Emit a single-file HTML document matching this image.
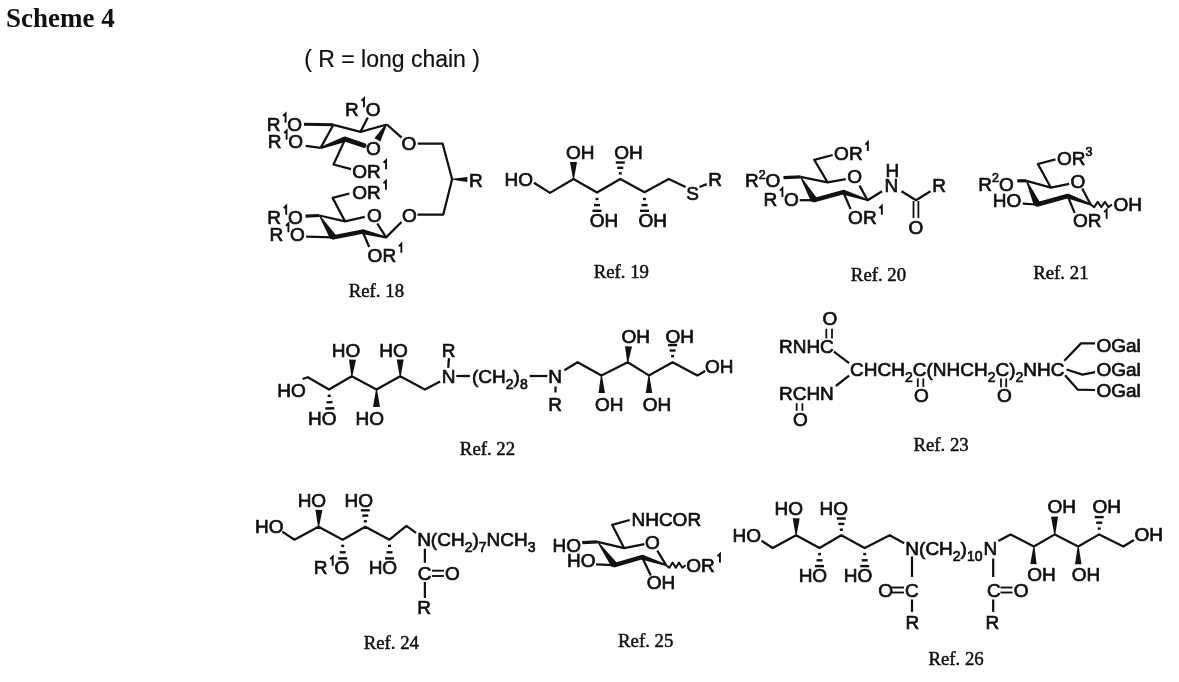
<!DOCTYPE html>
<html><head><meta charset="utf-8"><style>
html,body{margin:0;padding:0;background:#fff;}
svg{display:block;will-change:transform;}
.s{font-family:"Liberation Sans",sans-serif;fill:#111;stroke:#111;stroke-width:0.7px;}
.r{font-family:"Liberation Serif",serif;fill:#111;stroke:#111;stroke-width:0.5px;}
.h{font-family:"Liberation Sans",sans-serif;fill:#111;stroke:#111;stroke-width:0.2px;}
.b{font-family:"Liberation Serif",serif;font-weight:bold;fill:#111;}
</style></head><body>
<svg width="1179" height="682" viewBox="0 0 1179 682">
<rect width="1179" height="682" fill="#fff"/>
<text class="b" x="6.06" y="27.10" font-size="27">Scheme 4</text>
<text class="h" x="304.17" y="66.80" font-size="23">( R = long chain )</text>
<text class="s" x="266.64" y="131.40" font-size="19">R</text>
<polyline points="283.11,116.16 285.61,113.66 285.61,122.66" fill="none" stroke="#111" stroke-width="1.9"/>
<text class="s" x="287.31" y="131.40" font-size="19">O</text>
<text class="s" x="267.64" y="148.40" font-size="19">R</text>
<polyline points="284.11,133.16 286.61,130.66 286.61,139.66" fill="none" stroke="#111" stroke-width="1.9"/>
<text class="s" x="288.31" y="148.40" font-size="19">O</text>
<text class="s" x="345.04" y="116.10" font-size="19">R</text>
<polyline points="361.51,100.86 364.01,98.36 364.01,107.36" fill="none" stroke="#111" stroke-width="1.9"/>
<text class="s" x="365.71" y="116.10" font-size="19">O</text>
<text class="s" x="366.10" y="155.00" font-size="19">O</text>
<text class="s" x="401.40" y="150.10" font-size="19">O</text>
<text class="s" x="352.30" y="178.00" font-size="19">O</text>
<text class="s" x="367.08" y="178.00" font-size="19">R</text>
<polyline points="383.55,162.76 386.05,160.26 386.05,169.26" fill="none" stroke="#111" stroke-width="1.9"/>
<text class="s" x="468.94" y="186.80" font-size="19">R</text>
<polyline points="304.0,124.3 333.4,124.8" fill="none" stroke="#111" stroke-width="3" stroke-linejoin="round" stroke-linecap="butt"/>
<polyline points="333.4,124.8 360.5,131.8 386.9,124.5" fill="none" stroke="#111" stroke-width="2.25" stroke-linejoin="round" stroke-linecap="butt"/>
<polyline points="333.4,124.8 320.6,147.9" fill="none" stroke="#111" stroke-width="2.25" stroke-linejoin="round" stroke-linecap="butt"/>
<polygon points="321.0,148.9 346.1,141.7 344.3,136.5 320.2,146.9" fill="#111"/>
<line x1="345.2" y1="139.1" x2="364.0" y2="145.5" stroke="#111" stroke-width="5" stroke-linecap="round"/>
<polygon points="385.4,124.6 374.4,138.2 380.4,141.6 386.6,125.4" fill="#111"/>
<polyline points="360.5,131.8 367.8,117.5" fill="none" stroke="#111" stroke-width="2.25" stroke-linejoin="round" stroke-linecap="butt"/>
<polyline points="345.2,139.1 333.5,164.5 351.0,169.2" fill="none" stroke="#111" stroke-width="2.25" stroke-linejoin="round" stroke-linecap="butt"/>
<polyline points="305.7,145.8 320.6,147.9" fill="none" stroke="#111" stroke-width="2.25" stroke-linejoin="round" stroke-linecap="butt"/>
<polyline points="386.9,124.5 401.6,137.7" fill="none" stroke="#111" stroke-width="2.25" stroke-linejoin="round" stroke-linecap="butt"/>
<polyline points="417.7,143.5 442.6,143.5 452.1,179.3 443.3,214.5 417.5,214.5" fill="none" stroke="#111" stroke-width="2.25" stroke-linejoin="round" stroke-linecap="butt"/>
<polygon points="452.1,179.8 467.4,182.1 467.4,177.1 452.1,178.8" fill="#111"/>
<text class="s" x="352.20" y="198.60" font-size="19">O</text>
<text class="s" x="366.98" y="198.60" font-size="19">R</text>
<polyline points="383.45,183.36 385.95,180.86 385.95,189.86" fill="none" stroke="#111" stroke-width="1.9"/>
<text class="s" x="267.24" y="223.50" font-size="19">R</text>
<polyline points="283.71,208.26 286.21,205.76 286.21,214.76" fill="none" stroke="#111" stroke-width="1.9"/>
<text class="s" x="287.91" y="223.50" font-size="19">O</text>
<text class="s" x="269.44" y="241.10" font-size="19">R</text>
<polyline points="285.91,225.86 288.41,223.36 288.41,232.36" fill="none" stroke="#111" stroke-width="1.9"/>
<text class="s" x="290.11" y="241.10" font-size="19">O</text>
<text class="s" x="366.90" y="222.00" font-size="19">O</text>
<text class="s" x="402.10" y="222.00" font-size="19">O</text>
<text class="s" x="367.60" y="261.60" font-size="19">O</text>
<text class="s" x="382.38" y="261.60" font-size="19">R</text>
<polyline points="398.85,246.36 401.35,243.86 401.35,252.86" fill="none" stroke="#111" stroke-width="1.9"/>
<polyline points="305.5,216.2 319.4,215.5" fill="none" stroke="#111" stroke-width="3.2" stroke-linejoin="round" stroke-linecap="butt"/>
<polyline points="319.4,215.5 345.0,221.3 364.8,216.9" fill="none" stroke="#111" stroke-width="2.25" stroke-linejoin="round" stroke-linecap="butt"/>
<polyline points="377.3,223.5 386.1,237.4 401.5,222.0" fill="none" stroke="#111" stroke-width="2.25" stroke-linejoin="round" stroke-linecap="butt"/>
<polygon points="386.3,236.4 363.2,229.2 362.0,234.0 385.9,238.4" fill="#111"/>
<line x1="362.6" y1="231.6" x2="333.3" y2="237.4" stroke="#111" stroke-width="4.5" stroke-linecap="round"/>
<polygon points="319.0,215.8 330.3,239.3 336.3,235.5 319.8,215.2" fill="#111"/>
<polyline points="306.2,236.7 333.3,237.4" fill="none" stroke="#111" stroke-width="2.25" stroke-linejoin="round" stroke-linecap="butt"/>
<polyline points="345.0,221.3 332.6,197.9 349.4,193.5" fill="none" stroke="#111" stroke-width="2.25" stroke-linejoin="round" stroke-linecap="butt"/>
<polyline points="362.6,231.6 369.2,247.0" fill="none" stroke="#111" stroke-width="2.25" stroke-linejoin="round" stroke-linecap="butt"/>
<text class="r" x="348.76" y="297.40" font-size="18.8">Ref. 18</text>
<text class="s" x="504.44" y="186.30" font-size="19">HO</text>
<text class="s" x="566.00" y="159.20" font-size="19">OH</text>
<text class="s" x="589.70" y="226.70" font-size="19">OH</text>
<text class="s" x="614.30" y="159.20" font-size="19">OH</text>
<text class="s" x="638.50" y="226.60" font-size="19">OH</text>
<text class="s" x="686.14" y="199.50" font-size="19">S</text>
<text class="s" x="708.24" y="186.30" font-size="19">R</text>
<polyline points="533.9,182.7 550.0,192.9 573.5,179.0 597.0,192.5 620.3,179.0 644.5,192.2 668.7,179.0 685.6,187.0" fill="none" stroke="#111" stroke-width="2.25" stroke-linejoin="round" stroke-linecap="butt"/>
<polyline points="699.5,187.0 706.8,184.1" fill="none" stroke="#111" stroke-width="2.25" stroke-linejoin="round" stroke-linecap="butt"/>
<polygon points="574.0,179.0 577.0,162.1 570.0,162.1 573.0,179.0" fill="#111"/>
<line x1="595.5" y1="199.0" x2="598.5" y2="199.0" stroke="#111" stroke-width="2.4"/>
<line x1="594.0" y1="205.1" x2="600.0" y2="205.1" stroke="#111" stroke-width="2.4"/>
<line x1="592.5" y1="210.8" x2="601.5" y2="210.8" stroke="#111" stroke-width="2.4"/>
<line x1="621.8" y1="173.4" x2="618.8" y2="173.4" stroke="#111" stroke-width="2.4"/>
<line x1="623.3" y1="167.8" x2="617.3" y2="167.8" stroke="#111" stroke-width="2.4"/>
<line x1="624.8" y1="162.5" x2="615.8" y2="162.5" stroke="#111" stroke-width="2.4"/>
<line x1="643.0" y1="199.0" x2="646.0" y2="199.0" stroke="#111" stroke-width="2.4"/>
<line x1="641.5" y1="205.1" x2="647.5" y2="205.1" stroke="#111" stroke-width="2.4"/>
<line x1="640.0" y1="210.8" x2="649.0" y2="210.8" stroke="#111" stroke-width="2.4"/>
<text class="r" x="593.66" y="277.50" font-size="18.8">Ref. 19</text>
<text class="s" x="744.94" y="187.30" font-size="19">R</text>
<text class="s" x="758.66" y="178.56" font-size="12.5">2</text>
<text class="s" x="765.61" y="187.30" font-size="19">O</text>
<text class="s" x="763.44" y="205.80" font-size="19">R</text>
<polyline points="779.91,190.56 782.41,188.06 782.41,197.06" fill="none" stroke="#111" stroke-width="1.9"/>
<text class="s" x="784.11" y="205.80" font-size="19">O</text>
<text class="s" x="834.10" y="159.80" font-size="19">O</text>
<text class="s" x="848.88" y="159.80" font-size="19">R</text>
<polyline points="865.35,144.56 867.85,142.06 867.85,151.06" fill="none" stroke="#111" stroke-width="1.9"/>
<text class="s" x="847.30" y="183.20" font-size="19">O</text>
<text class="s" x="848.10" y="223.50" font-size="19">O</text>
<text class="s" x="862.88" y="223.50" font-size="19">R</text>
<polyline points="879.35,208.26 881.85,205.76 881.85,214.76" fill="none" stroke="#111" stroke-width="1.9"/>
<text class="s" x="885.44" y="176.80" font-size="19">H</text>
<text class="s" x="884.44" y="192.10" font-size="19">N</text>
<text class="s" x="932.14" y="192.10" font-size="19">R</text>
<text class="s" x="908.60" y="234.00" font-size="19">O</text>
<polyline points="783.5,177.6 800.5,176.8" fill="none" stroke="#111" stroke-width="3.2" stroke-linejoin="round" stroke-linecap="butt"/>
<polyline points="800.5,176.8 827.6,182.4 845.8,179.2" fill="none" stroke="#111" stroke-width="2.25" stroke-linejoin="round" stroke-linecap="butt"/>
<polyline points="859.5,185.6 867.6,200.2 882.1,191.3" fill="none" stroke="#111" stroke-width="2.25" stroke-linejoin="round" stroke-linecap="butt"/>
<polygon points="867.9,199.3 844.1,189.7 842.5,194.5 867.3,201.1" fill="#111"/>
<line x1="843.3" y1="192.1" x2="814.2" y2="200.2" stroke="#111" stroke-width="4.5" stroke-linecap="round"/>
<polygon points="800.1,177.1 811.2,202.0 817.2,198.4 800.9,176.5" fill="#111"/>
<polyline points="799.7,200.2 814.2,200.2" fill="none" stroke="#111" stroke-width="2.25" stroke-linejoin="round" stroke-linecap="butt"/>
<polyline points="827.6,182.4 814.2,159.8 832.7,155.0" fill="none" stroke="#111" stroke-width="2.25" stroke-linejoin="round" stroke-linecap="butt"/>
<polyline points="843.3,192.1 850.6,209.0" fill="none" stroke="#111" stroke-width="2.25" stroke-linejoin="round" stroke-linecap="butt"/>
<polyline points="901.5,191.3 916.0,200.2 930.5,191.3" fill="none" stroke="#111" stroke-width="2.25" stroke-linejoin="round" stroke-linecap="butt"/>
<polyline points="913.5,201.0 913.5,218.0" fill="none" stroke="#111" stroke-width="1.8" stroke-linejoin="round" stroke-linecap="butt"/>
<polyline points="918.4,201.0 918.4,218.0" fill="none" stroke="#111" stroke-width="1.8" stroke-linejoin="round" stroke-linecap="butt"/>
<text class="r" x="850.86" y="280.90" font-size="18.8">Ref. 20</text>
<text class="s" x="978.34" y="190.70" font-size="19">R</text>
<text class="s" x="992.06" y="181.96" font-size="12.5">2</text>
<text class="s" x="999.01" y="190.70" font-size="19">O</text>
<text class="s" x="992.84" y="206.80" font-size="19">HO</text>
<text class="s" x="1056.90" y="164.80" font-size="19">O</text>
<text class="s" x="1071.68" y="164.80" font-size="19">R</text>
<text class="s" x="1085.40" y="156.06" font-size="12.5">3</text>
<text class="s" x="1070.60" y="187.70" font-size="19">O</text>
<text class="s" x="1113.40" y="211.30" font-size="19">OH</text>
<text class="s" x="1072.90" y="227.40" font-size="19">O</text>
<text class="s" x="1087.68" y="227.40" font-size="19">R</text>
<polyline points="1104.15,212.16 1106.65,209.66 1106.65,218.66" fill="none" stroke="#111" stroke-width="1.9"/>
<polyline points="1017.3,180.8 1026.5,180.8" fill="none" stroke="#111" stroke-width="3.2" stroke-linejoin="round" stroke-linecap="butt"/>
<polyline points="1026.5,180.8 1050.9,187.7 1069.2,183.9" fill="none" stroke="#111" stroke-width="2.25" stroke-linejoin="round" stroke-linecap="butt"/>
<polyline points="1082.2,188.4 1090.6,204.5" fill="none" stroke="#111" stroke-width="2.25" stroke-linejoin="round" stroke-linecap="butt"/>
<polygon points="1090.9,203.6 1068.6,193.7 1066.8,198.3 1090.3,205.4" fill="#111"/>
<line x1="1067.7" y1="196.0" x2="1037.2" y2="204.5" stroke="#111" stroke-width="4.5" stroke-linecap="round"/>
<polygon points="1026.0,181.0 1034.0,205.9 1040.4,203.1 1027.0,180.6" fill="#111"/>
<polyline points="1022.7,203.7 1037.2,204.5" fill="none" stroke="#111" stroke-width="2.25" stroke-linejoin="round" stroke-linecap="butt"/>
<polyline points="1050.9,187.7 1037.9,164.0 1055.5,159.4" fill="none" stroke="#111" stroke-width="2.25" stroke-linejoin="round" stroke-linecap="butt"/>
<polyline points="1067.7,196.0 1074.6,212.9" fill="none" stroke="#111" stroke-width="2.25" stroke-linejoin="round" stroke-linecap="butt"/>
<polyline points="1090.6,204.5 1094.2,207.1 1097.7,201.9 1101.3,207.1 1104.9,201.9 1108.4,207.1 1112.0,204.5" fill="none" stroke="#111" stroke-width="2.0" stroke-linejoin="round" stroke-linecap="butt"/>
<text class="r" x="1033.26" y="278.50" font-size="18.8">Ref. 21</text>
<text class="s" x="277.24" y="397.40" font-size="19">HO</text>
<text class="s" x="331.74" y="357.00" font-size="19">HO</text>
<text class="s" x="379.34" y="357.00" font-size="19">HO</text>
<text class="s" x="308.04" y="424.70" font-size="19">HO</text>
<text class="s" x="355.54" y="424.70" font-size="19">HO</text>
<text class="s" x="441.84" y="356.60" font-size="19">R</text>
<text class="s" x="441.84" y="383.20" font-size="19">N</text>
<text class="s" x="472.02" y="383.20" font-size="19">(CH</text>
<text class="s" x="505.79" y="388.71" font-size="14">2</text>
<text class="s" x="513.58" y="383.20" font-size="19">)</text>
<text class="s" x="519.90" y="388.71" font-size="14">8</text>
<text class="s" x="548.24" y="383.20" font-size="19">N</text>
<text class="s" x="548.24" y="410.60" font-size="19">R</text>
<text class="s" x="621.60" y="342.90" font-size="19">OH</text>
<text class="s" x="665.60" y="342.90" font-size="19">OH</text>
<text class="s" x="595.10" y="410.60" font-size="19">OH</text>
<text class="s" x="642.70" y="410.60" font-size="19">OH</text>
<text class="s" x="705.10" y="372.80" font-size="19">OH</text>
<polyline points="302.6,379.0 307.8,377.2 329.0,389.5 351.8,376.3 376.5,389.5 400.2,376.3 424.8,389.5 440.2,381.6" fill="none" stroke="#111" stroke-width="2.25" stroke-linejoin="round" stroke-linecap="butt"/>
<polygon points="352.3,376.3 356.0,359.7 349.0,359.5 351.3,376.3" fill="#111"/>
<polygon points="400.7,376.3 403.7,359.6 396.7,359.6 399.7,376.3" fill="#111"/>
<line x1="327.7" y1="395.9" x2="330.7" y2="395.8" stroke="#111" stroke-width="2.4"/>
<line x1="326.5" y1="402.4" x2="332.5" y2="402.1" stroke="#111" stroke-width="2.4"/>
<line x1="325.3" y1="408.5" x2="334.3" y2="408.2" stroke="#111" stroke-width="2.4"/>
<polygon points="376.0,389.5 373.0,407.1 380.0,407.1 377.0,389.5" fill="#111"/>
<polyline points="449.0,358.2 448.2,367.9" fill="none" stroke="#111" stroke-width="2.25" stroke-linejoin="round" stroke-linecap="butt"/>
<polyline points="456.3,376.0 470.0,376.0" fill="none" stroke="#111" stroke-width="2.25" stroke-linejoin="round" stroke-linecap="butt"/>
<polyline points="529.7,376.0 547.4,376.0" fill="none" stroke="#111" stroke-width="2.25" stroke-linejoin="round" stroke-linecap="butt"/>
<polyline points="555.5,386.5 555.5,392.5" fill="none" stroke="#111" stroke-width="2.25" stroke-linejoin="round" stroke-linecap="butt"/>
<polyline points="564.4,370.2 577.6,362.2 601.4,375.4 627.7,362.2 648.9,375.4 672.6,362.2 697.3,375.4 705.2,371.0" fill="none" stroke="#111" stroke-width="2.25" stroke-linejoin="round" stroke-linecap="butt"/>
<polygon points="600.9,375.4 598.6,393.1 605.0,392.9 601.9,375.4" fill="#111"/>
<polygon points="628.2,362.2 632.0,346.6 625.0,346.2 627.2,362.2" fill="#111"/>
<polygon points="648.4,375.4 645.8,393.0 652.2,393.0 649.4,375.4" fill="#111"/>
<line x1="674.1" y1="356.2" x2="671.1" y2="356.2" stroke="#111" stroke-width="2.4"/>
<line x1="675.6" y1="350.5" x2="669.6" y2="350.5" stroke="#111" stroke-width="2.4"/>
<line x1="677.1" y1="345.1" x2="668.1" y2="345.1" stroke="#111" stroke-width="2.4"/>
<text class="r" x="459.86" y="454.90" font-size="18.8">Ref. 22</text>
<text class="s" x="778.94" y="352.70" font-size="19">RNHC</text>
<text class="s" x="822.50" y="325.00" font-size="19">O</text>
<text class="s" x="850.04" y="376.00" font-size="19">CHCH</text>
<text class="s" x="904.92" y="381.51" font-size="14">2</text>
<text class="s" x="912.71" y="376.00" font-size="19">C(NHCH</text>
<text class="s" x="987.64" y="381.51" font-size="14">2</text>
<text class="s" x="995.43" y="376.00" font-size="19">C)</text>
<text class="s" x="1015.47" y="381.51" font-size="14">2</text>
<text class="s" x="1023.26" y="376.00" font-size="19">NHC</text>
<text class="s" x="914.10" y="402.30" font-size="19">O</text>
<text class="s" x="997.10" y="401.60" font-size="19">O</text>
<text class="s" x="778.94" y="400.30" font-size="19">RCHN</text>
<text class="s" x="792.90" y="426.10" font-size="19">O</text>
<text class="s" x="1096.50" y="352.00" font-size="19">OGal</text>
<text class="s" x="1096.50" y="376.20" font-size="19">OGal</text>
<text class="s" x="1096.50" y="397.20" font-size="19">OGal</text>
<polyline points="826.3,328.8 826.3,338.4" fill="none" stroke="#111" stroke-width="1.8" stroke-linejoin="round" stroke-linecap="butt"/>
<polyline points="832.0,328.8 832.0,338.4" fill="none" stroke="#111" stroke-width="1.8" stroke-linejoin="round" stroke-linecap="butt"/>
<polyline points="917.8,378.4 917.8,387.0" fill="none" stroke="#111" stroke-width="1.8" stroke-linejoin="round" stroke-linecap="butt"/>
<polyline points="923.3,378.4 923.3,387.0" fill="none" stroke="#111" stroke-width="1.8" stroke-linejoin="round" stroke-linecap="butt"/>
<polyline points="1001.0,378.4 1001.0,387.3" fill="none" stroke="#111" stroke-width="1.8" stroke-linejoin="round" stroke-linecap="butt"/>
<polyline points="1006.2,378.4 1006.2,387.3" fill="none" stroke="#111" stroke-width="1.8" stroke-linejoin="round" stroke-linecap="butt"/>
<polyline points="796.7,403.2 796.7,410.8" fill="none" stroke="#111" stroke-width="1.8" stroke-linejoin="round" stroke-linecap="butt"/>
<polyline points="802.4,403.2 802.4,410.8" fill="none" stroke="#111" stroke-width="1.8" stroke-linejoin="round" stroke-linecap="butt"/>
<polyline points="833.9,351.7 849.1,363.2" fill="none" stroke="#111" stroke-width="2.25" stroke-linejoin="round" stroke-linecap="butt"/>
<polyline points="849.1,375.6 835.8,386.0" fill="none" stroke="#111" stroke-width="2.25" stroke-linejoin="round" stroke-linecap="butt"/>
<polyline points="1064.3,360.8 1081.0,343.4 1095.0,343.4" fill="none" stroke="#111" stroke-width="2.25" stroke-linejoin="round" stroke-linecap="butt"/>
<polyline points="1066.5,369.5 1082.5,374.6 1095.0,372.2" fill="none" stroke="#111" stroke-width="2.25" stroke-linejoin="round" stroke-linecap="butt"/>
<polyline points="1065.0,375.2 1077.7,389.6 1095.0,390.0" fill="none" stroke="#111" stroke-width="2.25" stroke-linejoin="round" stroke-linecap="butt"/>
<text class="r" x="913.46" y="450.80" font-size="18.8">Ref. 23</text>
<text class="s" x="254.94" y="533.20" font-size="19">HO</text>
<text class="s" x="297.64" y="506.60" font-size="19">HO</text>
<text class="s" x="344.44" y="506.60" font-size="19">HO</text>
<text class="s" x="313.74" y="574.40" font-size="19">R</text>
<polyline points="330.21,559.16 332.71,556.66 332.71,565.66" fill="none" stroke="#111" stroke-width="1.9"/>
<text class="s" x="334.41" y="574.40" font-size="19">O</text>
<text class="s" x="368.64" y="574.40" font-size="19">HO</text>
<text class="s" x="417.14" y="546.00" font-size="19">N(CH</text>
<text class="s" x="464.63" y="551.51" font-size="14">2</text>
<text class="s" x="472.42" y="546.00" font-size="19">)</text>
<text class="s" x="478.75" y="551.51" font-size="14">7</text>
<text class="s" x="486.53" y="546.00" font-size="19">NCH</text>
<text class="s" x="527.70" y="551.51" font-size="14">3</text>
<text class="s" x="417.74" y="580.40" font-size="19">C</text>
<text class="s" x="445.10" y="580.40" font-size="19">O</text>
<text class="s" x="417.14" y="613.80" font-size="19">R</text>
<polyline points="282.3,531.6 294.4,539.7 318.5,526.8 342.7,539.7 365.3,526.8 389.5,539.7 406.4,525.8 416.0,532.9" fill="none" stroke="#111" stroke-width="2.25" stroke-linejoin="round" stroke-linecap="butt"/>
<polygon points="319.0,526.8 322.4,509.9 315.4,509.7 318.0,526.8" fill="#111"/>
<line x1="366.8" y1="521.3" x2="363.8" y2="521.3" stroke="#111" stroke-width="2.4"/>
<line x1="368.3" y1="515.6" x2="362.3" y2="515.6" stroke="#111" stroke-width="2.4"/>
<line x1="369.8" y1="510.3" x2="360.8" y2="510.3" stroke="#111" stroke-width="2.4"/>
<line x1="341.2" y1="545.9" x2="344.2" y2="545.9" stroke="#111" stroke-width="2.4"/>
<line x1="339.7" y1="552.3" x2="345.7" y2="552.3" stroke="#111" stroke-width="2.4"/>
<line x1="338.2" y1="558.4" x2="347.2" y2="558.4" stroke="#111" stroke-width="2.4"/>
<line x1="388.0" y1="545.9" x2="391.0" y2="545.9" stroke="#111" stroke-width="2.4"/>
<line x1="386.5" y1="552.3" x2="392.5" y2="552.3" stroke="#111" stroke-width="2.4"/>
<line x1="385.0" y1="558.4" x2="394.0" y2="558.4" stroke="#111" stroke-width="2.4"/>
<polyline points="424.9,548.7 424.9,562.8" fill="none" stroke="#111" stroke-width="2.25" stroke-linejoin="round" stroke-linecap="butt"/>
<polyline points="424.9,582.0 424.9,598.0" fill="none" stroke="#111" stroke-width="2.25" stroke-linejoin="round" stroke-linecap="butt"/>
<polyline points="432.0,570.7 444.0,570.7" fill="none" stroke="#111" stroke-width="1.9" stroke-linejoin="round" stroke-linecap="butt"/>
<polyline points="432.0,576.0 444.0,576.0" fill="none" stroke="#111" stroke-width="1.9" stroke-linejoin="round" stroke-linecap="butt"/>
<text class="r" x="363.66" y="648.80" font-size="18.8">Ref. 24</text>
<text class="s" x="552.44" y="551.50" font-size="19">HO</text>
<text class="s" x="566.94" y="566.80" font-size="19">HO</text>
<text class="s" x="631.44" y="525.60" font-size="19">NHCOR</text>
<text class="s" x="645.10" y="549.00" font-size="19">O</text>
<text class="s" x="686.20" y="571.60" font-size="19">O</text>
<text class="s" x="700.98" y="571.60" font-size="19">R</text>
<polyline points="717.45,556.36 719.95,553.86 719.95,562.86" fill="none" stroke="#111" stroke-width="1.9"/>
<text class="s" x="646.70" y="588.50" font-size="19">OH</text>
<polyline points="582.3,542.6 597.6,541.8" fill="none" stroke="#111" stroke-width="3.2" stroke-linejoin="round" stroke-linecap="butt"/>
<polyline points="597.6,541.8 624.2,548.2 644.4,544.2" fill="none" stroke="#111" stroke-width="2.25" stroke-linejoin="round" stroke-linecap="butt"/>
<polyline points="657.3,550.6 666.1,565.2" fill="none" stroke="#111" stroke-width="2.25" stroke-linejoin="round" stroke-linecap="butt"/>
<polygon points="666.4,564.3 642.8,554.7 641.2,559.5 665.8,566.1" fill="#111"/>
<line x1="642.0" y1="557.1" x2="614.5" y2="565.2" stroke="#111" stroke-width="4.5" stroke-linecap="round"/>
<polygon points="597.2,542.1 611.7,567.2 617.3,563.2 598.0,541.5" fill="#111"/>
<polyline points="596.0,564.4 614.5,565.2" fill="none" stroke="#111" stroke-width="2.25" stroke-linejoin="round" stroke-linecap="butt"/>
<polyline points="624.2,548.2 612.1,524.8 629.8,520.0" fill="none" stroke="#111" stroke-width="2.25" stroke-linejoin="round" stroke-linecap="butt"/>
<polyline points="642.0,557.1 650.8,575.6" fill="none" stroke="#111" stroke-width="2.25" stroke-linejoin="round" stroke-linecap="butt"/>
<polyline points="666.1,565.2 669.3,567.8 672.6,562.6 675.8,567.8 679.0,562.6 682.3,567.8 685.5,565.2" fill="none" stroke="#111" stroke-width="2.0" stroke-linejoin="round" stroke-linecap="butt"/>
<text class="r" x="618.06" y="647.30" font-size="18.8">Ref. 25</text>
<text class="s" x="732.44" y="542.40" font-size="19">HO</text>
<text class="s" x="774.44" y="515.00" font-size="19">HO</text>
<text class="s" x="819.54" y="515.00" font-size="19">HO</text>
<text class="s" x="798.64" y="582.00" font-size="19">HO</text>
<text class="s" x="843.74" y="582.00" font-size="19">HO</text>
<text class="s" x="905.34" y="555.40" font-size="19">N(CH</text>
<text class="s" x="952.83" y="560.91" font-size="14">2</text>
<text class="s" x="960.62" y="555.40" font-size="19">)</text>
<text class="s" x="966.95" y="560.91" font-size="14">10</text>
<text class="s" x="983.44" y="555.40" font-size="19">N</text>
<text class="s" x="878.30" y="596.50" font-size="19">O</text>
<text class="s" x="905.04" y="596.50" font-size="19">C</text>
<text class="s" x="905.44" y="629.30" font-size="19">R</text>
<text class="s" x="987.04" y="596.50" font-size="19">C</text>
<text class="s" x="1013.80" y="596.50" font-size="19">O</text>
<text class="s" x="985.44" y="629.30" font-size="19">R</text>
<text class="s" x="1027.30" y="581.10" font-size="19">OH</text>
<text class="s" x="1071.70" y="581.10" font-size="19">OH</text>
<text class="s" x="1047.50" y="513.40" font-size="19">OH</text>
<text class="s" x="1092.60" y="513.40" font-size="19">OH</text>
<text class="s" x="1134.60" y="540.80" font-size="19">OH</text>
<polyline points="761.5,540.8 772.7,548.0 796.1,535.2 819.5,548.0 841.3,535.2 864.7,548.0 889.7,535.2 904.2,543.2" fill="none" stroke="#111" stroke-width="2.25" stroke-linejoin="round" stroke-linecap="butt"/>
<polygon points="796.6,535.2 799.7,518.2 792.7,518.2 795.6,535.2" fill="#111"/>
<line x1="842.8" y1="529.7" x2="839.8" y2="529.7" stroke="#111" stroke-width="2.4"/>
<line x1="844.3" y1="523.9" x2="838.3" y2="523.9" stroke="#111" stroke-width="2.4"/>
<line x1="845.8" y1="518.5" x2="836.8" y2="518.5" stroke="#111" stroke-width="2.4"/>
<line x1="818.0" y1="554.1" x2="821.0" y2="554.1" stroke="#111" stroke-width="2.4"/>
<line x1="816.5" y1="560.3" x2="822.5" y2="560.3" stroke="#111" stroke-width="2.4"/>
<line x1="815.0" y1="566.1" x2="824.0" y2="566.1" stroke="#111" stroke-width="2.4"/>
<line x1="863.2" y1="554.1" x2="866.2" y2="554.1" stroke="#111" stroke-width="2.4"/>
<line x1="861.7" y1="560.3" x2="867.7" y2="560.3" stroke="#111" stroke-width="2.4"/>
<line x1="860.2" y1="566.1" x2="869.2" y2="566.1" stroke="#111" stroke-width="2.4"/>
<polyline points="912.0,556.4 912.0,577.0" fill="none" stroke="#111" stroke-width="2.25" stroke-linejoin="round" stroke-linecap="butt"/>
<polyline points="912.0,599.5 912.0,611.9" fill="none" stroke="#111" stroke-width="2.25" stroke-linejoin="round" stroke-linecap="butt"/>
<polyline points="993.2,558.5 993.2,577.0" fill="none" stroke="#111" stroke-width="2.25" stroke-linejoin="round" stroke-linecap="butt"/>
<polyline points="993.2,599.5 993.2,611.9" fill="none" stroke="#111" stroke-width="2.25" stroke-linejoin="round" stroke-linecap="butt"/>
<polyline points="891.0,587.5 904.0,587.5" fill="none" stroke="#111" stroke-width="1.9" stroke-linejoin="round" stroke-linecap="butt"/>
<polyline points="891.0,592.5 904.0,592.5" fill="none" stroke="#111" stroke-width="1.9" stroke-linejoin="round" stroke-linecap="butt"/>
<polyline points="1000.5,587.5 1012.5,587.5" fill="none" stroke="#111" stroke-width="1.9" stroke-linejoin="round" stroke-linecap="butt"/>
<polyline points="1000.5,592.5 1012.5,592.5" fill="none" stroke="#111" stroke-width="1.9" stroke-linejoin="round" stroke-linecap="butt"/>
<polyline points="998.3,541.0 1010.5,534.4 1033.9,546.5 1054.8,534.4 1078.2,546.5 1099.2,534.4 1123.4,546.5 1133.9,540.0" fill="none" stroke="#111" stroke-width="2.25" stroke-linejoin="round" stroke-linecap="butt"/>
<polygon points="1033.4,546.5 1030.3,564.1 1036.7,564.3 1034.4,546.5" fill="#111"/>
<polygon points="1055.3,534.4 1058.0,516.5 1051.0,516.7 1054.3,534.4" fill="#111"/>
<polygon points="1077.7,546.5 1075.0,564.2 1081.5,564.2 1078.7,546.5" fill="#111"/>
<line x1="1100.7" y1="528.6" x2="1097.7" y2="528.6" stroke="#111" stroke-width="2.4"/>
<line x1="1102.2" y1="522.7" x2="1096.2" y2="522.7" stroke="#111" stroke-width="2.4"/>
<line x1="1103.7" y1="517.1" x2="1094.7" y2="517.1" stroke="#111" stroke-width="2.4"/>
<text class="r" x="928.46" y="664.60" font-size="18.8">Ref. 26</text>
</svg>
</body></html>
